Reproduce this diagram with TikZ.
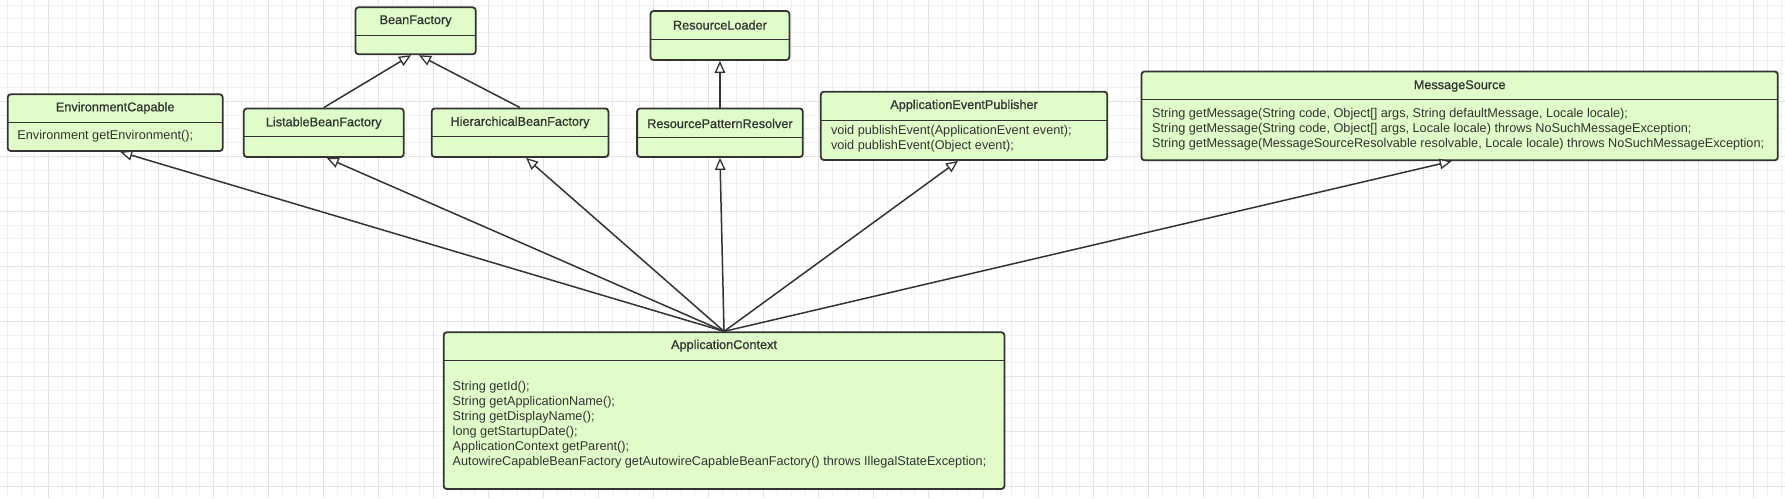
\documentclass[tikz,border=0pt]{standalone}
\usepackage{fontspec}
\setmainfont{Liberation Sans}
\newfontfamily\titlefont[FakeBold=0.8]{Liberation Sans}
\usetikzlibrary{arrows.meta}

\definecolor{classfill}{HTML}{E0FCC8}
\definecolor{classdraw}{HTML}{333333}
\definecolor{gridminor}{HTML}{F0F0F0}
\definecolor{gridmajor}{HTML}{E3E3E3}

\tikzset{
  classbox/.style={draw=classdraw, fill=classfill, line width=1.8pt, rounded corners=3pt, inner sep=0pt},
  classline/.style={draw=classdraw, line width=1.5pt},
  classname/.style={font=\titlefont\fontsize{12.7}{15}\selectfont, text=classdraw, inner sep=0pt},
  members/.style={font=\fontsize{12.7}{15}\selectfont, align=left, anchor=west, inner sep=0pt, text=classdraw},
  inherit/.style={draw=classdraw, line width=1.5pt, -{Triangle[width=10.5pt,length=12pt,fill=white,line width=1.3pt]}},
}

\begin{document}
\begin{tikzpicture}[x=1pt, y=-1pt]
        \useasboundingbox (0,0) rectangle (1785,498);
        \fill[white] (0,0) rectangle (1785,498);

        % grid
        \foreach \i in {0,...,129} \draw[gridminor, line width=1pt] ({7.45+13.75*\i},0) -- ++(0,498);
        \foreach \i in {0,...,35} \draw[gridminor, line width=1pt] (0,{5.05+13.75*\i}) -- ++(1785,0);
        \foreach \i in {0,...,31} \draw[gridmajor, line width=1pt] ({48.7+55*\i},0) -- ++(0,498);
        \foreach \i in {0,...,8} \draw[gridmajor, line width=1pt] (0,{46.3+55*\i}) -- ++(1785,0);

        % classes
        \node (env) [classbox, minimum width=215pt, minimum height=56.7pt] at (115.2,122.65) {};
        \node (envname) [classname] at (115.2,108) {EnvironmentCapable};
        \draw[classline] (7.7,122.3) -- (222.7,122.3);
        \node (envbody) [members] at (17.2,136.7) {Environment getEnvironment();};

        \node (bf) [classbox, minimum width=120.2pt, minimum height=47pt] at (415.6,30.8) {};
        \node (bfname) [classname] at (415.6,21) {BeanFactory};
        \draw[classline] (355.5,35.4) -- (475.7,35.4);

        \node (lbf) [classbox, minimum width=159.9pt, minimum height=48.5pt] at (323.75,132.75) {};
        \node (lbfname) [classname] at (323.75,123) {ListableBeanFactory};
        \draw[classline] (243.8,136.7) -- (403.7,136.7);

        \node (hbf) [classbox, minimum width=176.7pt, minimum height=48.5pt] at (520.05,132.75) {};
        \node (hbfname) [classname] at (520.05,122.5) {HierarchicalBeanFactory};
        \draw[classline] (431.7,136.5) -- (608.4,136.5);

        \node (rl) [classbox, minimum width=138.9pt, minimum height=49pt] at (719.95,35.5) {};
        \node (rlname) [classname] at (719.95,25) {ResourceLoader};
        \draw[classline] (650.5,39.3) -- (789.4,39.3);

        \node (rpr) [classbox, minimum width=165.7pt, minimum height=48.5pt] at (719.95,132.75) {};
        \node (rprname) [classname] at (719.95,123.5) {ResourcePatternResolver};
        \draw[classline] (637.1,137.4) -- (802.8,137.4);

        \node (aep) [classbox, minimum width=286.5pt, minimum height=68.3pt] at (964.05,125.85) {};
        \node (aepname) [classname] at (964.05,105.7) {ApplicationEventPublisher};
        \draw[classline] (820.8,120.3) -- (1107.3,120.3);
        \node (aepbody) [members] at (830.8,138.5) {void publishEvent(ApplicationEvent event);\\void publishEvent(Object event);};

        \node (ms) [classbox, minimum width=636.3pt, minimum height=88.8pt] at (1459.65,115.9) {};
        \node (msname) [classname] at (1459.65,86) {MessageSource};
        \draw[classline] (1141.5,99.4) -- (1777.8,99.4);
        \node (msbody) [members] at (1152,129.6) {String getMessage(String code, Object[] args, String defaultMessage, Locale locale);\\String getMessage(String code, Object[] args, Locale locale) throws NoSuchMessageException;\\String getMessage(MessageSourceResolvable resolvable, Locale locale) throws NoSuchMessageException;};

        \node (ac) [classbox, minimum width=560.7pt, minimum height=156.7pt] at (724.05,410.65) {};
        \node (acname) [classname] at (724.05,345.7) {ApplicationContext};
        \draw[classline] (443.7,360.7) -- (1004.4,360.7);
        \node (acbody) [members] at (452.5,424.7) {String getId();\\String getApplicationName();\\String getDisplayName();\\long getStartupDate();\\ApplicationContext getParent();\\AutowireCapableBeanFactory getAutowireCapableBeanFactory() throws IllegalStateException;};

        % edges
        \draw[inherit] (lbf.north) -- ([xshift=-4.6pt]bf.south);
        \draw[inherit] (hbf.north) -- ([xshift=3.4pt]bf.south);
        \draw[inherit] (rpr.north) -- (rl.south);
        \draw[inherit] (ac.north) -- ([xshift=5pt]env.south);
        \draw[inherit] (ac.north) -- ([xshift=3pt]lbf.south);
        \draw[inherit] (ac.north) -- ([xshift=6pt]hbf.south);
        \draw[inherit] (ac.north) -- (rpr.south);
        \draw[inherit] (ac.north) -- ([xshift=-6pt]aep.south);
        \draw[inherit] (ac.north) -- ([xshift=-8pt]ms.south);
    \end{tikzpicture}
\end{document}
